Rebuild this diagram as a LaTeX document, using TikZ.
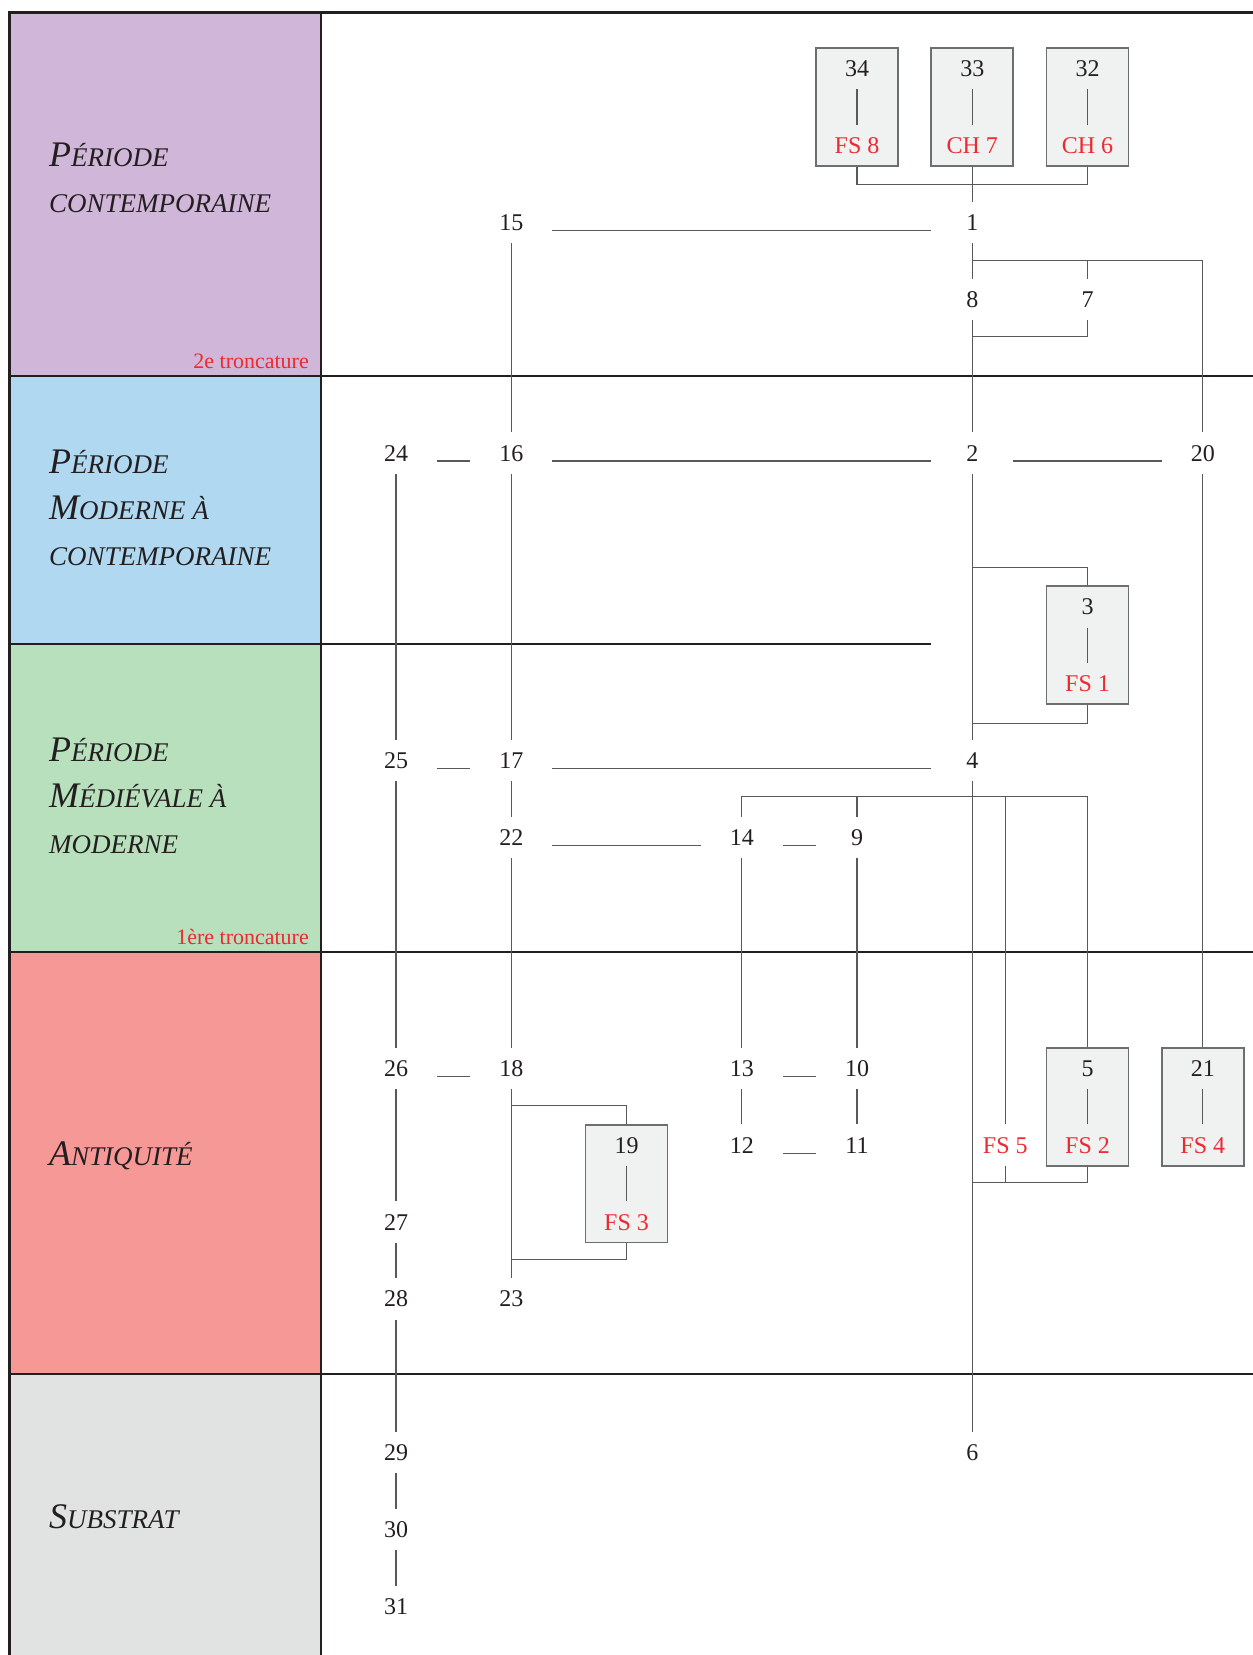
\documentclass[tikz,border=0pt]{standalone}
\usepackage{fontspec}
\setmainfont{Liberation Serif}
\usetikzlibrary{calc}
\definecolor{ink}{HTML}{231F20}
\definecolor{lnk}{HTML}{58595B}
\definecolor{redt}{HTML}{EC2A30}
\definecolor{bandA}{HTML}{D0B6D8}
\definecolor{bandB}{HTML}{B0D8F0}
\definecolor{bandC}{HTML}{B9E0BD}
\definecolor{bandD}{HTML}{F59896}
\definecolor{bandE}{HTML}{E1E2E2}
\definecolor{boxfill}{HTML}{F0F1F1}
\definecolor{boxline}{HTML}{6D6E70}
\newcommand\BigIni[1]{{\fontsize{36pt}{40pt}\selectfont #1}}
\newcommand\SmCap[1]{{\fontsize{27pt}{30pt}\selectfont #1}}
\begin{document}
\begin{tikzpicture}[x=1pt,y=-1pt,
  num/.style={inner sep=0pt, minimum width=82pt, minimum height=41pt, text height=16pt, text depth=0pt, anchor=base, font=\fontsize{24pt}{26pt}\selectfont, text=ink},
  lab/.style={num, text=redt},
  fsbox/.style={draw=boxline, line width=1.8pt, fill=boxfill, minimum width=82pt, minimum height=117.9pt, inner sep=0pt},
  band/.style={line width=2.4pt, draw=ink},
  per/.style={anchor=base west, inner sep=0pt, font=\itshape, text=ink},
  trunc/.style={anchor=base east, inner sep=0pt, font=\fontsize{22pt}{24pt}\selectfont, text=redt},
  conn/.style={draw=lnk, line width=1.1pt}
]
\useasboundingbox (0,0) rectangle (1253,1655);
% band fills
\fill[bandA] (9.5,12.5) rectangle (321,376);
\fill[bandB] (9.5,376) rectangle (321,644);
\fill[bandC] (9.5,644) rectangle (321,952);
\fill[bandD] (9.5,952) rectangle (321,1374);
\fill[bandE] (9.5,1374) rectangle (321,1665);
% band lines
\draw[band] (9.5,1665) -- (9.5,12.5) -- (1265,12.5);
\draw[band] (321,12.5) -- (321,1665);
\draw[band] (9.5,376) -- (1265,376);
\draw[band] (9.5,644) -- (931,644);
\draw[band] (9.5,952) -- (1265,952);
\draw[band] (9.5,1374) -- (1265,1374);
% period labels
\node[per] (p1a) at (49,166) {\BigIni{P}\SmCap{ÉRIODE}};
\node[per] (p1b) at (49,212) {\SmCap{CONTEMPORAINE}};
\node[per] (p2a) at (49,473.7) {\BigIni{P}\SmCap{ÉRIODE}};
\node[per] (p2b) at (49,519) {\BigIni{M}\SmCap{ODERNE À}};
\node[per] (p2c) at (49,565.5) {\SmCap{CONTEMPORAINE}};
\node[per] (p3a) at (49,761) {\BigIni{P}\SmCap{ÉRIODE}};
\node[per] (p3b) at (49,807) {\BigIni{M}\SmCap{ÉDIÉVALE À}};
\node[per] (p3c) at (49,853) {\SmCap{MODERNE}};
\node[per] (p4) at (49,1165) {\BigIni{A}\SmCap{NTIQUITÉ}};
\node[per] (p5) at (49,1528) {\BigIni{S}\SmCap{UBSTRAT}};
\node[trunc] (tr2) at (309,368.3) {2e troncature};
\node[trunc] (tr1) at (309,944.8) {1ère troncature};
% boxes
\node[fsbox] (b34) at (857,106.95) {};
\node[fsbox] (b33) at (972.25,106.95) {};
\node[fsbox] (b32) at (1087.5,106.95) {};
\node[fsbox] (b3) at (1087.5,645.25) {};
\node[fsbox] (b5) at (1087.5,1106.65) {};
\node[fsbox] (b21) at (1202.75,1106.65) {};
\node[fsbox] (b19) at (626.5,1183.55) {};
% numbers
\node[num] (n34) at (857,76.5) {34};
\node[lab] (fs8) at (857,153.4) {FS 8};
\node[num] (n33) at (972.25,76.5) {33};
\node[lab] (ch7) at (972.25,153.4) {CH 7};
\node[num] (n32) at (1087.5,76.5) {32};
\node[lab] (ch6) at (1087.5,153.4) {CH 6};
\node[num] (n15) at (511.25,230.3) {15};
\node[num] (n1) at (972.25,230.3) {1};
\node[num] (n8) at (972.25,307.2) {8};
\node[num] (n7) at (1087.5,307.2) {7};
\node[num] (n24) at (396,461) {24};
\node[num] (n16) at (511.25,461) {16};
\node[num] (n2) at (972.25,461) {2};
\node[num] (n20) at (1202.75,461) {20};
\node[num] (n3) at (1087.5,614.8) {3};
\node[lab] (fs1) at (1087.5,691.7) {FS 1};
\node[num] (n25) at (396,768.6) {25};
\node[num] (n17) at (511.25,768.6) {17};
\node[num] (n4) at (972.25,768.6) {4};
\node[num] (n22) at (511.25,845.5) {22};
\node[num] (n14) at (741.75,845.5) {14};
\node[num] (n9) at (857,845.5) {9};
\node[num] (n26) at (396,1076.2) {26};
\node[num] (n18) at (511.25,1076.2) {18};
\node[num] (n13) at (741.75,1076.2) {13};
\node[num] (n10) at (857,1076.2) {10};
\node[num] (n5) at (1087.5,1076.2) {5};
\node[num] (n21) at (1202.75,1076.2) {21};
\node[num] (n19) at (626.5,1153.1) {19};
\node[num] (n12) at (741.75,1153.1) {12};
\node[num] (n11) at (857,1153.1) {11};
\node[lab] (fs5) at (1005.3,1153.1) {FS 5};
\node[lab] (fs2) at (1087.5,1153.1) {FS 2};
\node[lab] (fs4) at (1202.75,1153.1) {FS 4};
\node[num] (n27) at (396,1230) {27};
\node[lab] (fs3) at (626.5,1230) {FS 3};
\node[num] (n28) at (396,1306.9) {28};
\node[num] (n23) at (511.25,1306.9) {23};
\node[num] (n29) at (396,1460.7) {29};
\node[num] (n6) at (972.25,1460.7) {6};
\node[num] (n30) at (396,1537.6) {30};
\node[num] (n31) at (396,1614.5) {31};
% connectors inside boxes
\draw[conn] (n34.south) -- (fs8.north);
\draw[conn] (n33.south) -- (ch7.north);
\draw[conn] (n32.south) -- (ch6.north);
\draw[conn] (n3.south) -- (fs1.north);
\draw[conn] (n5.south) -- (fs2.north);
\draw[conn] (n21.south) -- (fs4.north);
\draw[conn] (n19.south) -- (fs3.north);
% top group
\draw[conn] (b34.south) -- ++(0,18) -| (b32.south);
\draw[conn] (b33.south) -- (n1.north);
\draw[conn] (n15.base east) -- (n1.base west);
\draw[conn] (n1.south) -- (n8.north);
\coordinate (j1) at ($(n1.south)+(0,17.5)$);
\draw[conn] (j1) -| (n20.north);
\draw[conn] (n7.north) -- (n7.north |- j1);
\draw[conn] (n8.south) -- (n2.north);
\draw[conn] (n7.south) |- ($(n8.south)+(0,16.5)$);
% row 16
\draw[conn] (n15.south) -- (n16.north);
\draw[conn] (n24.base east) -- (n16.base west);
\draw[conn] (n16.base east) -- (n2.base west);
\draw[conn] (n2.base east) -- (n20.base west);
\draw[conn] (n24.south) -- (n25.north);
\draw[conn] (n16.south) -- (n17.north);
\draw[conn] (n2.south) -- (n4.north);
\draw[conn] (n20.south) -- (b21.north);
\draw[conn] (b3.north) -- ++(0,-18) coordinate (t3) -- (t3 -| n2.south);
\draw[conn] (b3.south) -- ++(0,18) coordinate (u3) -- (u3 -| n2.south);
% row 17
\draw[conn] (n25.base east) -- (n17.base west);
\draw[conn] (n17.base east) -- (n4.base west);
\draw[conn] (n25.south) -- (n26.north);
\draw[conn] (n17.south) -- (n22.north);
\draw[conn] (n4.south) -- (n6.north);
\coordinate (bar9) at ($(n14.north)+(0,-20)$);
\draw[conn] (n14.north) -- (bar9) -| (b5.north);
\draw[conn] (n9.north) -- (n9.north |- bar9);
\draw[conn] (fs5.north) -- (fs5.north |- bar9);
% row 22
\draw[conn] (n22.base east) -- (n14.base west);
\draw[conn] (n14.base east) -- (n9.base west);
\draw[conn] (n22.south) -- (n18.north);
\draw[conn] (n14.south) -- (n13.north);
\draw[conn] (n9.south) -- (n10.north);
% row 26
\draw[conn] (n26.base east) -- (n18.base west);
\draw[conn] (n13.base east) -- (n10.base west);
\draw[conn] (n26.south) -- (n27.north);
\draw[conn] (n18.south) -- (n23.north);
\draw[conn] (n13.south) -- (n12.north);
\draw[conn] (n10.south) -- (n11.north);
\draw[conn] (n12.base east) -- (n11.base west);
\draw[conn] (b19.north) -- ++(0,-18.5) coordinate (t19) -- (t19 -| n18.south);
\draw[conn] (b19.south) -- ++(0,16) coordinate (u19) -- (u19 -| n18.south);
\draw[conn] (b5.south) -- ++(0,16) coordinate (u5) -- (u5 -| n4.south);
\draw[conn] (fs5.south) -- (fs5.south |- u5);
% bottom column
\draw[conn] (n27.south) -- (n28.north);
\draw[conn] (n28.south) -- (n29.north);
\draw[conn] (n29.south) -- (n30.north);
\draw[conn] (n30.south) -- (n31.north);
\end{tikzpicture}
\end{document}
